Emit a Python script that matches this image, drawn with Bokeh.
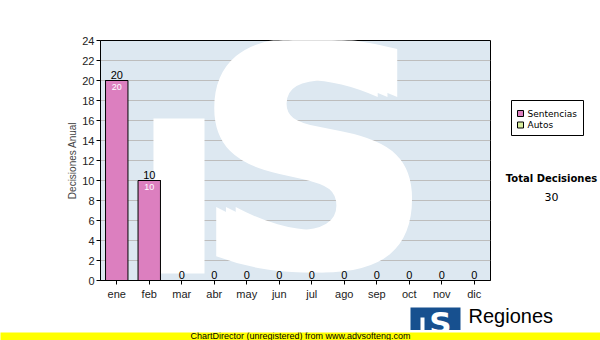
from bokeh.plotting import figure
from bokeh.models import Range1d, FixedTicker, ColumnDataSource
from bokeh.layouts import column, row
from bokeh.core.properties import value
from bokeh.embed import file_html
from bokeh.resources import INLINE

months = ["ene", "feb", "mar", "abr", "may", "jun", "jul", "ago", "sep", "oct", "nov", "dic"]
sentencias = [20, 10, 0, 0, 0, 0, 0, 0, 0, 0, 0, 0]
autos = [0, 0, 0, 0, 0, 0, 0, 0, 0, 0, 0, 0]
y_ticks = [0, 2, 4, 6, 8, 10, 12, 14, 16, 18, 20, 22, 24]
series_names = ["Sentencias", "Autos"]
series_colors = ["#dc7fbf", "#d9eea0"]
total_decisiones = 30

xs = [i + 0.5 for i in range(len(months))]
totals = [s + a for s, a in zip(sentencias, autos)]

def blank(fig):
    fig.axis.visible = False
    fig.grid.visible = False
    fig.outline_line_color = None
    fig.background_fill_color = "white"
    fig.border_fill_color = "white"
    return fig

# ---------------- main chart ----------------
p = figure(width=491, height=302, output_backend="svg", toolbar_location=None,
           x_range=Range1d(0, 12), y_range=Range1d(0, 24),
           min_border_left=100, min_border_right=1, min_border_top=40, min_border_bottom=22)
p.background_fill_color = "#dde8f1"
p.border_fill_color = "white"
p.outline_line_color = "black"
p.outline_line_width = 1

# watermark logo inside plot area
p.quad(left=1.63, right=3.2, bottom=0.7, top=16.2, color="white", line_color=None)
p.text(x=[6.25, 6.55, 6.85], y=[12.0, 12.0, 12.0], text=["S", "S", "S"],
       text_font=value("DejaVu Sans"), text_font_style="bold", text_font_size="310px",
       text_color="white", text_align="center", text_baseline="middle")

src = ColumnDataSource(dict(x=xs, sentencias=sentencias, autos=autos, total=totals,
                            tlabel=[str(t) for t in totals],
                            slabel=[str(s) if s > 0 else "" for s in sentencias]))
p.vbar_stack(["sentencias", "autos"], x="x", width=0.69, source=src,
             color=series_colors, line_color="black", line_width=1)

p.text(x="x", y="total", text="tlabel", source=src, text_font=value("Liberation Sans"),
       text_font_size="11px", text_color="black", text_align="center",
       text_baseline="bottom", y_offset=-2)
p.text(x="x", y="sentencias", text="slabel", source=src, text_font=value("Liberation Sans"),
       text_font_size="9px", text_color="white", text_align="center",
       text_baseline="top", y_offset=3)

p.xgrid.visible = False
p.ygrid.ticker = FixedTicker(ticks=y_ticks)
p.ygrid.grid_line_color = "#bdbdbd"

p.yaxis.ticker = FixedTicker(ticks=y_ticks)
p.yaxis.axis_label = "Decisiones Anual"
p.yaxis.axis_label_text_font = "Liberation Sans"
p.yaxis.axis_label_text_font_style = "normal"
p.yaxis.axis_label_text_font_size = "10px"
p.yaxis.axis_label_standoff = 1
p.xaxis.ticker = FixedTicker(ticks=xs)
p.xaxis.major_label_overrides = {x: m for x, m in zip(xs, months)}
for ax in (p.xaxis, p.yaxis):
    ax.major_label_text_font = "Liberation Sans"
    ax.major_label_text_font_size = "11px"
    ax.major_label_text_color = "#222222"
    ax.major_tick_in = 0
    ax.major_tick_out = 4
    ax.minor_tick_line_color = None
    ax.axis_line_color = "black"
    ax.major_tick_line_color = "black"
p.yaxis.major_label_standoff = 2
p.xaxis.major_label_standoff = 3

# ---------------- right panel: legend + total ----------------
# (frame of this panel is aligned with the chart frame: pixel rows 40..280)
side = blank(figure(width=109, height=302, output_backend="svg", toolbar_location=None,
                    x_range=Range1d(491, 600), y_range=Range1d(280, 40), min_border=0,
                    min_border_left=0, min_border_right=0, min_border_top=40, min_border_bottom=22))
side.quad(left=[511], right=[583], top=[100], bottom=[135], fill_color="white",
          line_color="black", line_width=1)
leg_y = [113, 124.5]
side.quad(left=[517, 517], right=[523, 523], top=[y - 3 for y in leg_y],
          bottom=[y + 3 for y in leg_y], fill_color=series_colors, line_color="black", line_width=1)
side.text(x=[527, 527], y=leg_y, text=series_names, text_font=value("DejaVu Sans"),
          text_font_size="9px", text_align="left", text_baseline="middle", text_color="black")
side.text(x=[551], y=[178], text=["Total Decisiones"], text_font=value("DejaVu Sans"),
          text_font_style="bold", text_font_size="10px", text_align="center",
          text_baseline="middle", text_color="black")
side.text(x=[551], y=[196], text=[str(total_decisiones)], text_font=value("DejaVu Sans"),
          text_font_size="11px", text_align="center", text_baseline="middle", text_color="black")

# ---------------- logo strip ----------------
logo = blank(figure(width=600, height=28, output_backend="svg", toolbar_location=None,
                    x_range=Range1d(0, 600), y_range=Range1d(330, 302), min_border=0,
                    min_border_left=0, min_border_right=0, min_border_top=0, min_border_bottom=0))
logo.quad(left=[410], right=[460], top=[307], bottom=[332], color="#17508f", line_color=None)
logo.quad(left=[420], right=[424], top=[317], bottom=[332], color="white", line_color=None)
logo.text(x=[440], y=[322], text=["S"], text_font=value("DejaVu Sans"), text_font_style="bold",
          text_font_size="31px", text_align="center", text_baseline="middle",
          text_color="white")
logo.text(x=[468], y=[315], text=["Regiones"], text_font=value("Liberation Sans"),
          text_font_size="20px", text_align="left", text_baseline="middle",
          text_color="black")

# ---------------- yellow band ----------------
band = blank(figure(width=600, height=10, output_backend="svg", toolbar_location=None,
                    x_range=Range1d(0, 600), y_range=Range1d(0, 10), min_border=0,
                    min_border_left=0, min_border_right=0, min_border_top=0, min_border_bottom=0))
band.background_fill_color = "#ffff00"
band.border_fill_color = "#ffff00"
band.text(x=[300], y=[6.5], text=["ChartDirector (unregistered) from www.advsofteng.com"],
          text_font=value("Liberation Sans"), text_font_size="9px", text_align="center",
          text_baseline="middle", text_color="black")

layout = column(row(p, side, spacing=0), logo, band, spacing=0)
open("out.html", "w").write(file_html(layout, INLINE))
